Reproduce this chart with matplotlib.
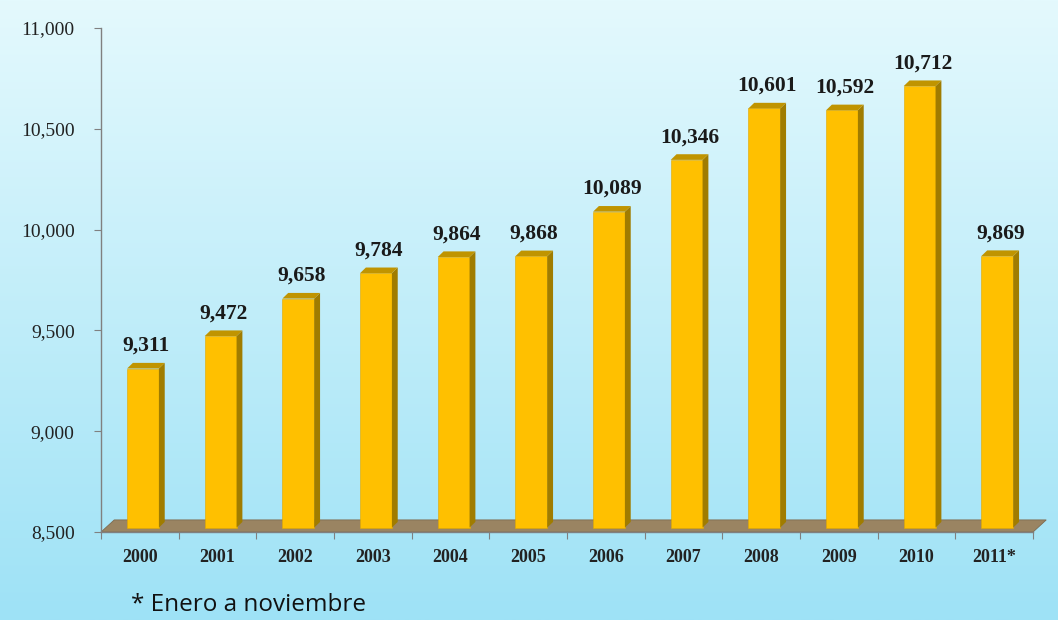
import numpy as np
import matplotlib.pyplot as plt
from matplotlib.patches import Polygon

years = ['2000', '2001', '2002', '2003', '2004', '2005', '2006', '2007',
         '2008', '2009', '2010', '2011*']
values = [9311, 9472, 9658, 9784, 9864, 9868, 10089, 10346, 10601, 10592, 10712, 9869]
value_labels = ['9,311', '9,472', '9,658', '9,784', '9,864', '9,868', '10,089',
                '10,346', '10,601', '10,592', '10,712', '9,869']
yticks = [8500, 9000, 9500, 10000, 10500, 11000]
ytick_labels = ['8,500', '9,000', '9,500', '10,000', '10,500', '11,000']

serif = ['Liberation Serif', 'DejaVu Serif']

fig = plt.figure(figsize=(10.58, 6.2), dpi=100)

# background gradient
bg = fig.add_axes([0, 0, 1, 1])
grad = np.linspace(0, 1, 256).reshape(-1, 1)
top_c = np.array([228, 249, 253]) / 255
bot_c = np.array([158, 226, 246]) / 255
img = top_c + (bot_c - top_c) * grad[..., None]
bg.imshow(img, aspect='auto', extent=[0, 1, 0, 1])
bg.axis('off')

ax = fig.add_axes([0.0955, 0.1419, 0.8809, 0.8129])
ax.patch.set_alpha(0)
ax.set_xlim(-0.5, len(years) - 0.5)
ax.set_ylim(8500, 11000)

# 3D depth offsets (in data units)
ddx = 0.075
ddy = 28
base = 8500 + 22
floor_dx = 0.17
floor_dy = 60

# floor
floor = Polygon([(-0.5, 8500), (len(years) - 0.5, 8500),
                 (len(years) - 0.5 + floor_dx, 8500 + floor_dy),
                 (-0.5 + floor_dx, 8500 + floor_dy)],
                closed=True, facecolor='#9a8462', edgecolor='#7d6a50',
                linewidth=0.6, clip_on=False, zorder=1)
ax.add_patch(floor)

x = np.arange(len(years))
w = 0.41
xs = x + 0.04
ax.bar(xs, np.array(values) - base, bottom=base, width=w, color='#FFC000',
       edgecolor='#e0a800', linewidth=0.4, zorder=3)
for xi, v in zip(xs, values):
    l, r = xi - w / 2, xi + w / 2
    side = Polygon([(r, base), (r + ddx, base + ddy), (r + ddx, v + ddy), (r, v)],
                   closed=True, facecolor='#a07c00', edgecolor='none', zorder=3)
    topf = Polygon([(l, v), (r, v), (r + ddx, v + ddy), (l + ddx, v + ddy)],
                   closed=True, facecolor='#c09400', edgecolor='none', zorder=3)
    ax.add_patch(side)
    ax.add_patch(topf)

for xi, v, lab in zip(xs, values, value_labels):
    ax.annotate(lab, (xi + ddx / 2, v + ddy), xytext=(0, 5), textcoords='offset points',
                ha='center', va='bottom', fontsize=15.5, fontweight='bold',
                family=serif, color='#1a1a1a', zorder=5)

ax.set_yticks(yticks)
ax.set_yticklabels(ytick_labels, family=serif, fontsize=14, color='#222222')
ax.set_xticks(x)
ax.set_xticklabels(years, family=serif, fontsize=13, fontweight='bold', color='#222222')
ax.set_xticks(np.arange(-0.5, len(years), 1.0), minor=True)
ax.tick_params(axis='x', which='major', length=0, pad=12)
ax.tick_params(axis='x', which='minor', length=5, color='#808080', width=0.8)
ax.tick_params(axis='y', length=5, color='#808080', width=0.8, pad=14)

for s in ['top', 'right']:
    ax.spines[s].set_visible(False)
for s in ['left', 'bottom']:
    ax.spines[s].set_color('#808080')
    ax.spines[s].set_linewidth(1.0)

fig.text(0.124, 0.014, '* Enero a noviembre', fontsize=17.5,
         family=['Open Sans', 'DejaVu Sans'], color='#111111')

fig.savefig('out.png', dpi=100)
